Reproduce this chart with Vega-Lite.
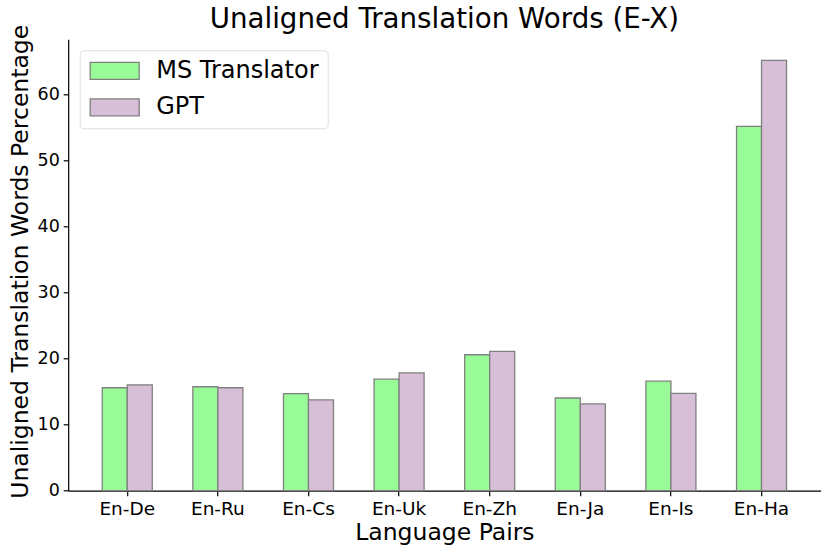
{
  "$schema": "https://vega.github.io/schema/vega-lite/v6.json",
  "autosize": "none",
  "width": 752.4,
  "height": 451.4,
  "padding": {"left": 68.2, "top": 39.3, "right": 9.4, "bottom": 63.3},
  "background": "white",
  "title": {
    "text": "Unaligned Translation Words (E-X)",
    "font": "DejaVu Sans",
    "fontSize": 27.7,
    "fontWeight": "normal",
    "color": "black",
    "anchor": "middle",
    "frame": "group",
    "baseline": "alphabetic",
    "offset": 8.6,
    "dy": 40
  },
  "data": {
    "values": [
      {"pair": "En-De", "model": "MS Translator", "value": 15.6},
      {"pair": "En-De", "model": "GPT", "value": 16.05},
      {"pair": "En-Ru", "model": "MS Translator", "value": 15.75},
      {"pair": "En-Ru", "model": "GPT", "value": 15.6},
      {"pair": "En-Cs", "model": "MS Translator", "value": 14.7},
      {"pair": "En-Cs", "model": "GPT", "value": 13.75},
      {"pair": "En-Uk", "model": "MS Translator", "value": 16.9},
      {"pair": "En-Uk", "model": "GPT", "value": 17.85},
      {"pair": "En-Zh", "model": "MS Translator", "value": 20.6},
      {"pair": "En-Zh", "model": "GPT", "value": 21.1},
      {"pair": "En-Ja", "model": "MS Translator", "value": 14.05},
      {"pair": "En-Ja", "model": "GPT", "value": 13.15},
      {"pair": "En-Is", "model": "MS Translator", "value": 16.6},
      {"pair": "En-Is", "model": "GPT", "value": 14.75},
      {"pair": "En-Ha", "model": "MS Translator", "value": 55.2},
      {"pair": "En-Ha", "model": "GPT", "value": 65.2}
    ]
  },
  "mark": {"type": "bar", "stroke": "#808080", "strokeWidth": 1.3, "opacity": 1},
  "encoding": {
    "x": {
      "field": "pair",
      "type": "nominal",
      "sort": null,
      "scale": {"paddingInner": 0.448, "paddingOuter": 0.376},
      "axis": {
        "labelAngle": 0,
        "bandPosition": 0.5,
        "domainColor": "black",
        "domainWidth": 1.2,
        "tickColor": "black",
        "tickWidth": 1.2,
        "tickSize": 5,
        "labelFont": "DejaVu Sans",
        "labelFontSize": 18.5,
        "labelColor": "black",
        "labelPadding": 3.5,
        "title": "Language Pairs",
        "titleFont": "DejaVu Sans",
        "titleFontSize": 23.5,
        "titleFontWeight": "normal",
        "titleColor": "black",
        "titleBaseline": "alphabetic",
        "titleX": 376.2,
        "titleY": 48.3,
        "titleAlign": "center"
      }
    },
    "xOffset": {
      "field": "model",
      "type": "nominal",
      "sort": ["MS Translator", "GPT"],
      "scale": {"paddingInner": 0, "paddingOuter": 0}
    },
    "y": {
      "field": "value",
      "type": "quantitative",
      "scale": {"domain": [0, 68.4], "nice": false, "zero": true},
      "axis": {
        "values": [0, 10, 20, 30, 40, 50, 60],
        "grid": false,
        "domainColor": "black",
        "domainWidth": 1.2,
        "tickColor": "black",
        "tickWidth": 1.2,
        "tickSize": 5,
        "labelFont": "DejaVu Sans",
        "labelFontSize": 17.5,
        "labelColor": "black",
        "labelPadding": 3.9,
        "title": "Unaligned Translation Words Percentage",
        "titleFont": "DejaVu Sans",
        "titleFontSize": 23.5,
        "titleFontWeight": "normal",
        "titleColor": "black",
        "titleBaseline": "alphabetic",
        "titleAngle": -90,
        "titleAlign": "center",
        "titleX": -41,
        "titleY": 222
      }
    },
    "color": {
      "field": "model",
      "type": "nominal",
      "sort": ["MS Translator", "GPT"],
      "scale": {"domain": ["MS Translator", "GPT"], "range": ["#98FB98", "#D8BFD8"]},
      "legend": {
        "title": null,
        "orient": "none",
        "legendX": 11.5,
        "legendY": 11,
        "labelFont": "DejaVu Sans",
        "labelFontSize": 24,
        "labelColor": "black",
        "labelLimit": 0,
        "symbolType": "M-1,-0.85L3.9,-0.85L3.9,0.85L-1,0.85Z",
        "symbolSize": 400,
        "symbolStrokeColor": "#808080",
        "symbolStrokeWidth": 1.3,
        "symbolOpacity": 1,
        "labelOffset": 44,
        "padding": 8.5,
        "rowPadding": 12.5,
        "strokeColor": "#dddddd",
        "cornerRadius": 4,
        "fillColor": "white"
      }
    }
  },
  "config": {"view": {"stroke": null}}
}
